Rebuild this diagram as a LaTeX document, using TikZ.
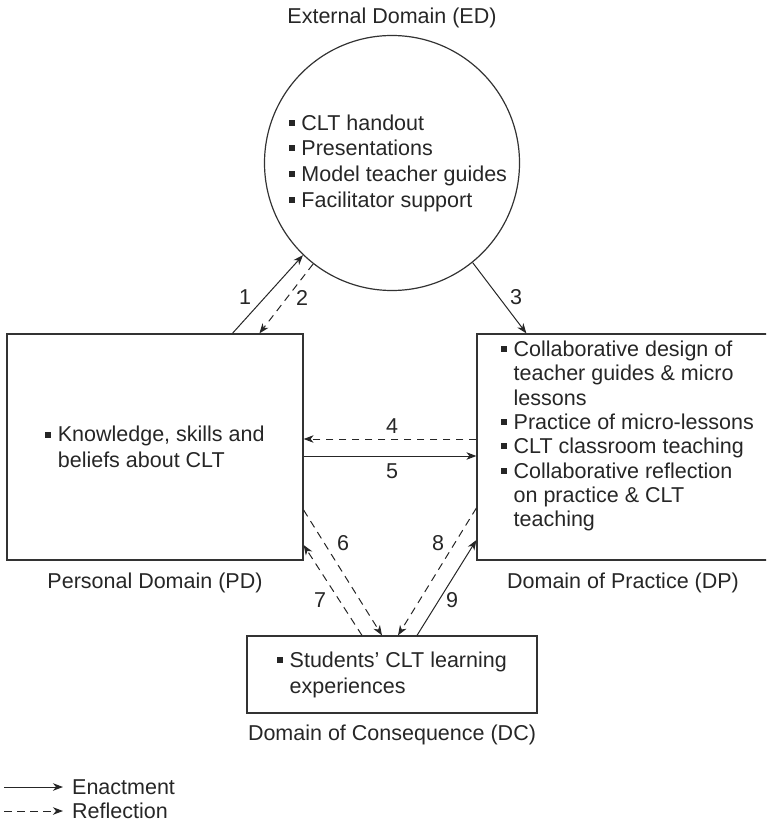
\documentclass[tikz,border=0pt]{standalone}
\usepackage{fontspec}
\setmainfont{Liberation Sans}
\usetikzlibrary{arrows.meta,calc}

\newcommand\sqb{\rule[0.2em]{0.28em}{0.28em}\hspace{0.3em}}
\newcommand\ind{\hspace*{0.58em}}

\begin{document}
\begin{tikzpicture}[x=1pt, y=-1pt,
    every node/.style={font=\fontsize{21.5}{25.5}\selectfont, text=black!85, inner sep=0pt},
    box/.style={rectangle, draw=black!80, line width=1.2pt},
    enact/.style={draw=black!85, line width=1pt, -{Stealth[length=10pt,width=7.5pt,inset=3pt]}},
    reflect/.style={enact, dash pattern=on 7.5pt off 5.5pt}
]
    \clip (0,0) rectangle (766,826);

    % domains
    \node (edtitle) at (392,18) {External Domain (ED)};
    \node[circle, draw=black!80, line width=1.2pt, minimum size=255pt] (ed) at (392,163) {};
    \node[align=left, font=\fontsize{21.5}{25.7}\selectfont] (edtext) at (398,163)
        {\sqb CLT handout\\ \sqb Presentations\\ \sqb Model teacher guides\\ \sqb Facilitator support};

    \node[box, minimum width=296pt, minimum height=226pt, align=left] (pd) at (155,447)
        {\sqb Knowledge, skills and\\ \ind beliefs about CLT};
    \node (pdlabel) at (155,583) {Personal Domain (PD)};

    \node[box, minimum width=313pt, minimum height=226pt] (dp) at (633.5,447) {};
    \node[align=left, anchor=west, font=\fontsize{21.5}{24.3}\selectfont] (dptext) at (501,436)
        {\sqb Collaborative design of\\ \ind teacher guides \& micro\\ \ind lessons\\
         \sqb Practice of micro-lessons\\ \sqb CLT classroom teaching\\
         \sqb Collaborative reflection\\ \ind on practice \& CLT\\ \ind teaching};
    \node (dplabel) at (623,583) {Domain of Practice (DP)};

    \node[box, minimum width=290pt, minimum height=77pt, align=left, font=\fontsize{21.5}{26}\selectfont] (dc) at (392,674.5)
        {\sqb Students’ CLT learning\\ \ind experiences};
    \node (dclabel) at (392,735) {Domain of Consequence (DC)};

    % connectors
    \draw[enact] ($(pd.north west)+(226,0)$) -- (ed.226);
    \draw[reflect] (ed.232) -- ($(pd.north west)+(253,0)$);
    \draw[enact] (ed.309) -- ($(dp.north west)+(50,0)$);
    \draw[reflect] ($(dp.west)+(0,-8)$) -- ($(pd.east)+(0,-8)$);
    \draw[enact] ($(pd.east)+(0,9)$) -- ($(dp.west)+(0,9)$);
    \draw[reflect] ($(pd.east)+(0,63)$) -- ($(dc.north)+(-10,0)$);
    \draw[reflect] ($(dc.north)+(-30,0)$) -- ($(pd.east)+(0,98)$);
    \draw[reflect] ($(dp.west)+(0,61)$) -- ($(dc.north)+(6,0)$);
    \draw[enact] ($(dc.north)+(25,0)$) -- ($(dp.west)+(0,93)$);

    % numbers
    \node (n1) at (245,297) {1};
    \node (n2) at (302,298) {2};
    \node (n3) at (516,297) {3};
    \node (n4) at (392,426) {4};
    \node (n5) at (392,471) {5};
    \node (n6) at (343,543) {6};
    \node (n7) at (320,600) {7};
    \node (n8) at (438,543) {8};
    \node (n9) at (452,600) {9};

    % legend
    \coordinate (ena) at (4,787);
    \coordinate (enb) at (63,787);
    \coordinate (rfa) at (4,811);
    \coordinate (rfb) at (63,811);
    \draw[enact] (ena) -- (enb);
    \draw[reflect] (rfa) -- (rfb);
    \node[anchor=west] (entxt) at (72,787) {Enactment};
    \node[anchor=west] (rftxt) at (72,811) {Reflection};
\end{tikzpicture}
\end{document}
